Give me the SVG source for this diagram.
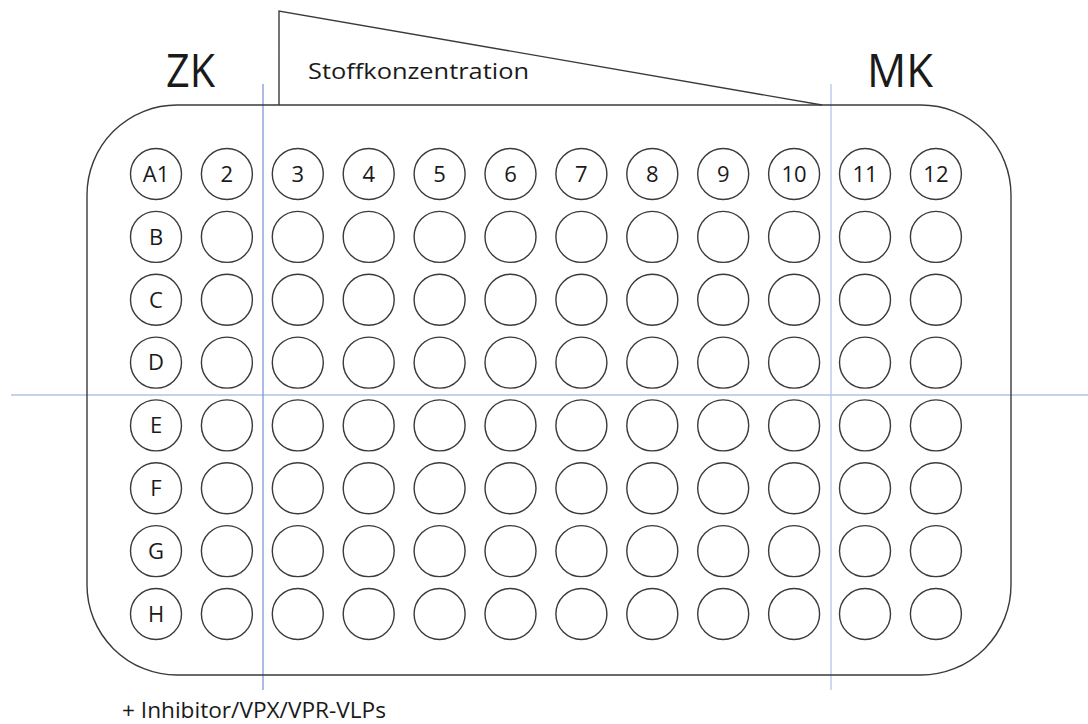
<svg xmlns="http://www.w3.org/2000/svg" width="1088" height="724" viewBox="0 0 1088 724">
<style>
.w{fill:none;stroke:#3a3a3a;stroke-width:1.4}
.t{font-family:"Open Sans",Lato,"Liberation Sans",sans-serif;fill:#1a1a1a}
.l{font-size:22px;text-anchor:middle}
.b{stroke-width:1.2;fill:none}
</style>
<rect width="1088" height="724" fill="#ffffff"/>
<g id="connectors">
<line class="b" x1="11" y1="395" x2="1088" y2="395" stroke="#8aa5d8"/>
<line class="b" x1="263" y1="84" x2="263" y2="690" stroke="#7290d2"/>
<line class="b" x1="831" y1="84" x2="831" y2="690" stroke="#adc2e6"/>
</g>
<g id="plate">
<rect x="87" y="105" width="924" height="570" rx="90" ry="90" class="w" stroke-width="1.6"/>
</g>
<g id="gradient">
<polyline points="279,105 279,11 822,105" class="w" stroke-width="1.6"/>
<text class="t" x="308" y="79" font-size="21.5" textLength="221" lengthAdjust="spacingAndGlyphs">Stoffkonzentration</text>
</g>
<g id="zk"><text class="t" x="166" y="87" font-size="45" textLength="49" lengthAdjust="spacingAndGlyphs">ZK</text></g>
<g id="mk"><text class="t" x="867" y="87" font-size="45" textLength="66" lengthAdjust="spacingAndGlyphs">MK</text></g>
<g id="note"><text class="t" x="122" y="718" font-size="21.5" textLength="264" lengthAdjust="spacingAndGlyphs">+ Inhibitor/VPX/VPR-VLPs</text></g>
<g id="wells">
<g id="A1"><circle class="w" cx="156" cy="174" r="25.5"/><text class="t l" x="156" y="181.8">A1</text></g>
<g id="A2"><circle class="w" cx="226.9" cy="174" r="25.5"/><text class="t l" x="226.9" y="181.8">2</text></g>
<g id="A3"><circle class="w" cx="297.8" cy="174" r="25.5"/><text class="t l" x="297.8" y="181.8">3</text></g>
<g id="A4"><circle class="w" cx="368.7" cy="174" r="25.5"/><text class="t l" x="368.7" y="181.8">4</text></g>
<g id="A5"><circle class="w" cx="439.6" cy="174" r="25.5"/><text class="t l" x="439.6" y="181.8">5</text></g>
<g id="A6"><circle class="w" cx="510.5" cy="174" r="25.5"/><text class="t l" x="510.5" y="181.8">6</text></g>
<g id="A7"><circle class="w" cx="581.4" cy="174" r="25.5"/><text class="t l" x="581.4" y="181.8">7</text></g>
<g id="A8"><circle class="w" cx="652.3" cy="174" r="25.5"/><text class="t l" x="652.3" y="181.8">8</text></g>
<g id="A9"><circle class="w" cx="723.2" cy="174" r="25.5"/><text class="t l" x="723.2" y="181.8">9</text></g>
<g id="A10"><circle class="w" cx="794.1" cy="174" r="25.5"/><text class="t l" x="794.1" y="181.8">10</text></g>
<g id="A11"><circle class="w" cx="865" cy="174" r="25.5"/><text class="t l" x="865" y="181.8">11</text></g>
<g id="A12"><circle class="w" cx="935.9" cy="174" r="25.5"/><text class="t l" x="935.9" y="181.8">12</text></g>

<g id="B1"><circle class="w" cx="156" cy="236.9" r="25.5"/><text class="t l" x="156" y="244.7">B</text></g>
<g id="B2"><circle class="w" cx="226.9" cy="236.9" r="25.5"/></g>
<g id="B3"><circle class="w" cx="297.8" cy="236.9" r="25.5"/></g>
<g id="B4"><circle class="w" cx="368.7" cy="236.9" r="25.5"/></g>
<g id="B5"><circle class="w" cx="439.6" cy="236.9" r="25.5"/></g>
<g id="B6"><circle class="w" cx="510.5" cy="236.9" r="25.5"/></g>
<g id="B7"><circle class="w" cx="581.4" cy="236.9" r="25.5"/></g>
<g id="B8"><circle class="w" cx="652.3" cy="236.9" r="25.5"/></g>
<g id="B9"><circle class="w" cx="723.2" cy="236.9" r="25.5"/></g>
<g id="B10"><circle class="w" cx="794.1" cy="236.9" r="25.5"/></g>
<g id="B11"><circle class="w" cx="865" cy="236.9" r="25.5"/></g>
<g id="B12"><circle class="w" cx="935.9" cy="236.9" r="25.5"/></g>

<g id="C1"><circle class="w" cx="156" cy="299.7" r="25.5"/><text class="t l" x="156" y="307.5">C</text></g>
<g id="C2"><circle class="w" cx="226.9" cy="299.7" r="25.5"/></g>
<g id="C3"><circle class="w" cx="297.8" cy="299.7" r="25.5"/></g>
<g id="C4"><circle class="w" cx="368.7" cy="299.7" r="25.5"/></g>
<g id="C5"><circle class="w" cx="439.6" cy="299.7" r="25.5"/></g>
<g id="C6"><circle class="w" cx="510.5" cy="299.7" r="25.5"/></g>
<g id="C7"><circle class="w" cx="581.4" cy="299.7" r="25.5"/></g>
<g id="C8"><circle class="w" cx="652.3" cy="299.7" r="25.5"/></g>
<g id="C9"><circle class="w" cx="723.2" cy="299.7" r="25.5"/></g>
<g id="C10"><circle class="w" cx="794.1" cy="299.7" r="25.5"/></g>
<g id="C11"><circle class="w" cx="865" cy="299.7" r="25.5"/></g>
<g id="C12"><circle class="w" cx="935.9" cy="299.7" r="25.5"/></g>

<g id="D1"><circle class="w" cx="156" cy="362.6" r="25.5"/><text class="t l" x="156" y="370.4">D</text></g>
<g id="D2"><circle class="w" cx="226.9" cy="362.6" r="25.5"/></g>
<g id="D3"><circle class="w" cx="297.8" cy="362.6" r="25.5"/></g>
<g id="D4"><circle class="w" cx="368.7" cy="362.6" r="25.5"/></g>
<g id="D5"><circle class="w" cx="439.6" cy="362.6" r="25.5"/></g>
<g id="D6"><circle class="w" cx="510.5" cy="362.6" r="25.5"/></g>
<g id="D7"><circle class="w" cx="581.4" cy="362.6" r="25.5"/></g>
<g id="D8"><circle class="w" cx="652.3" cy="362.6" r="25.5"/></g>
<g id="D9"><circle class="w" cx="723.2" cy="362.6" r="25.5"/></g>
<g id="D10"><circle class="w" cx="794.1" cy="362.6" r="25.5"/></g>
<g id="D11"><circle class="w" cx="865" cy="362.6" r="25.5"/></g>
<g id="D12"><circle class="w" cx="935.9" cy="362.6" r="25.5"/></g>

<g id="E1"><circle class="w" cx="156" cy="425.4" r="25.5"/><text class="t l" x="156" y="433.2">E</text></g>
<g id="E2"><circle class="w" cx="226.9" cy="425.4" r="25.5"/></g>
<g id="E3"><circle class="w" cx="297.8" cy="425.4" r="25.5"/></g>
<g id="E4"><circle class="w" cx="368.7" cy="425.4" r="25.5"/></g>
<g id="E5"><circle class="w" cx="439.6" cy="425.4" r="25.5"/></g>
<g id="E6"><circle class="w" cx="510.5" cy="425.4" r="25.5"/></g>
<g id="E7"><circle class="w" cx="581.4" cy="425.4" r="25.5"/></g>
<g id="E8"><circle class="w" cx="652.3" cy="425.4" r="25.5"/></g>
<g id="E9"><circle class="w" cx="723.2" cy="425.4" r="25.5"/></g>
<g id="E10"><circle class="w" cx="794.1" cy="425.4" r="25.5"/></g>
<g id="E11"><circle class="w" cx="865" cy="425.4" r="25.5"/></g>
<g id="E12"><circle class="w" cx="935.9" cy="425.4" r="25.5"/></g>

<g id="F1"><circle class="w" cx="156" cy="488.3" r="25.5"/><text class="t l" x="156" y="496.1">F</text></g>
<g id="F2"><circle class="w" cx="226.9" cy="488.3" r="25.5"/></g>
<g id="F3"><circle class="w" cx="297.8" cy="488.3" r="25.5"/></g>
<g id="F4"><circle class="w" cx="368.7" cy="488.3" r="25.5"/></g>
<g id="F5"><circle class="w" cx="439.6" cy="488.3" r="25.5"/></g>
<g id="F6"><circle class="w" cx="510.5" cy="488.3" r="25.5"/></g>
<g id="F7"><circle class="w" cx="581.4" cy="488.3" r="25.5"/></g>
<g id="F8"><circle class="w" cx="652.3" cy="488.3" r="25.5"/></g>
<g id="F9"><circle class="w" cx="723.2" cy="488.3" r="25.5"/></g>
<g id="F10"><circle class="w" cx="794.1" cy="488.3" r="25.5"/></g>
<g id="F11"><circle class="w" cx="865" cy="488.3" r="25.5"/></g>
<g id="F12"><circle class="w" cx="935.9" cy="488.3" r="25.5"/></g>

<g id="G1"><circle class="w" cx="156" cy="551.1" r="25.5"/><text class="t l" x="156" y="558.9">G</text></g>
<g id="G2"><circle class="w" cx="226.9" cy="551.1" r="25.5"/></g>
<g id="G3"><circle class="w" cx="297.8" cy="551.1" r="25.5"/></g>
<g id="G4"><circle class="w" cx="368.7" cy="551.1" r="25.5"/></g>
<g id="G5"><circle class="w" cx="439.6" cy="551.1" r="25.5"/></g>
<g id="G6"><circle class="w" cx="510.5" cy="551.1" r="25.5"/></g>
<g id="G7"><circle class="w" cx="581.4" cy="551.1" r="25.5"/></g>
<g id="G8"><circle class="w" cx="652.3" cy="551.1" r="25.5"/></g>
<g id="G9"><circle class="w" cx="723.2" cy="551.1" r="25.5"/></g>
<g id="G10"><circle class="w" cx="794.1" cy="551.1" r="25.5"/></g>
<g id="G11"><circle class="w" cx="865" cy="551.1" r="25.5"/></g>
<g id="G12"><circle class="w" cx="935.9" cy="551.1" r="25.5"/></g>

<g id="H1"><circle class="w" cx="156" cy="614" r="25.5"/><text class="t l" x="156" y="621.8">H</text></g>
<g id="H2"><circle class="w" cx="226.9" cy="614" r="25.5"/></g>
<g id="H3"><circle class="w" cx="297.8" cy="614" r="25.5"/></g>
<g id="H4"><circle class="w" cx="368.7" cy="614" r="25.5"/></g>
<g id="H5"><circle class="w" cx="439.6" cy="614" r="25.5"/></g>
<g id="H6"><circle class="w" cx="510.5" cy="614" r="25.5"/></g>
<g id="H7"><circle class="w" cx="581.4" cy="614" r="25.5"/></g>
<g id="H8"><circle class="w" cx="652.3" cy="614" r="25.5"/></g>
<g id="H9"><circle class="w" cx="723.2" cy="614" r="25.5"/></g>
<g id="H10"><circle class="w" cx="794.1" cy="614" r="25.5"/></g>
<g id="H11"><circle class="w" cx="865" cy="614" r="25.5"/></g>
<g id="H12"><circle class="w" cx="935.9" cy="614" r="25.5"/></g>
</g>
</svg>
